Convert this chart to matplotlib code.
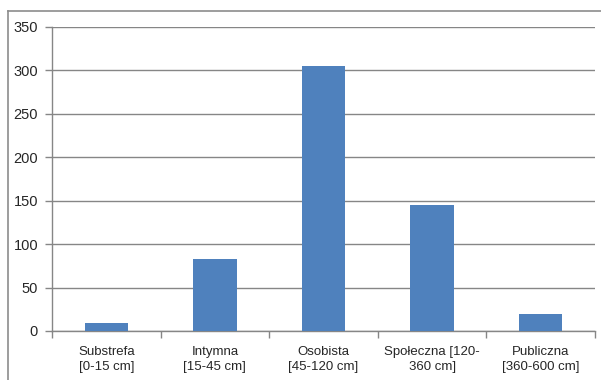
import matplotlib.pyplot as plt
from matplotlib.lines import Line2D

# Proxemic zones and counts
categories = ['Substrefa\n[0-15 cm]', 'Intymna\n[15-45 cm]', 'Osobista\n[45-120 cm]',
              'Społeczna [120-\n360 cm]', 'Publiczna\n[360-600 cm]']
counts = [9, 83, 305, 145, 19]
y_ticks = [0, 50, 100, 150, 200, 250, 300, 350]

BAR = '#4F81BD'
GRID = '#868686'
TEXT = '#262626'

plt.rcParams['font.family'] = ['Liberation Sans', 'DejaVu Sans']

fig = plt.figure(figsize=(6.01, 3.80), dpi=100)
fig.patch.set_facecolor('white')
ax = fig.add_axes([52 / 601, 49 / 380, 543 / 601, 304 / 380])

x = range(len(categories))
ax.bar(x, counts, width=0.4, color=BAR, zorder=3)

ax.set_xlim(-0.5, len(categories) - 0.5)
ax.set_ylim(0, 350)
ax.set_yticks(y_ticks)
ax.set_yticklabels([str(v) for v in y_ticks], fontsize=10.5, color=TEXT)
ax.grid(axis='y', color=GRID, linewidth=1, zorder=0)

# category labels centred, tick marks on the boundaries
ax.set_xticks(list(x))
ax.set_xticklabels(categories, fontsize=9.5, color=TEXT, linespacing=1.35)
ax.tick_params(axis='x', length=0, pad=11)
ax.set_xticks([i - 0.5 for i in range(len(categories) + 1)], minor=True)
ax.tick_params(axis='x', which='minor', length=5, color=GRID, width=1)
ax.tick_params(axis='y', length=5, color=GRID, width=1, pad=5)

for side in ['top', 'right']:
    ax.spines[side].set_visible(False)
for side in ['left', 'bottom']:
    ax.spines[side].set_color(GRID)
    ax.spines[side].set_linewidth(1)

# chart frame (left and top edges)
fig.add_artist(Line2D([7.5 / 601, 7.5 / 601], [0, 1 - 11 / 380], color='#8c8c8c', linewidth=1.2,
                      transform=fig.transFigure))
fig.add_artist(Line2D([7.5 / 601, 1], [1 - 11 / 380, 1 - 11 / 380], color='#8c8c8c', linewidth=1.2,
                      transform=fig.transFigure))

fig.savefig('out.png', dpi=100, facecolor='white')
